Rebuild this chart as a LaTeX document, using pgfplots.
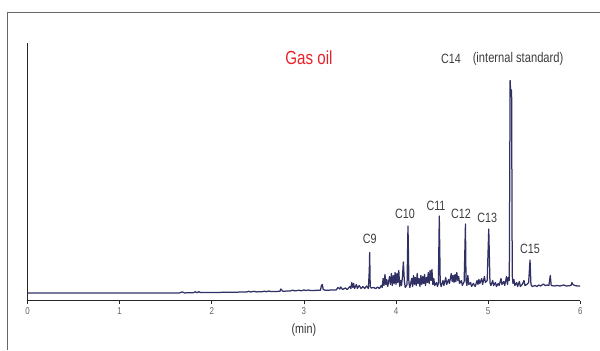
\documentclass[border=0pt]{standalone}
\usepackage{fontspec}
\setmainfont{Liberation Sans}[FakeStretch=0.8]
\usepackage{pgfplots}
\pgfplotsset{compat=1.18}
\definecolor{trace}{RGB}{48,48,100}
\definecolor{lbl}{RGB}{60,60,60}
\definecolor{tlbl}{RGB}{100,100,100}
\definecolor{gasred}{RGB}{232,32,42}
\begin{document}
\begin{tikzpicture}[x=1bp,y=1bp]
\useasboundingbox (0,0) rectangle (600,350);
\draw[gray!80!black,line width=1bp] (7,0) -- (7,337.7) -- (600,337.7);
\begin{axis}[
  at={(27.6bp,49.5bp)}, anchor=south west,
  scale only axis, width=552.6bp, height=257bp,
  xmin=0, xmax=6, ymin=0, ymax=257,
  axis x line=bottom, axis y line=left,
  axis line style={-, black!85, line width=1.2bp},
  y axis line style={line width=1.6bp},
  xtick={0,1,2,3,4,5,6}, ytick=\empty,
  tick style={black!85, line width=0.8bp},
  major tick length=3bp,
  xtick align=outside,
  /pgf/number format/assume math mode=true,
  ticklabel style={font=\fontsize{10}{11}\selectfont, text=tlbl, yshift=-1bp},
  xlabel={(min)},
  xlabel style={font=\fontsize{13.5}{14}\selectfont, text=black!80, yshift=-2bp},
  clip=false,
]
\addplot[trace, line width=1.25bp, mark=none, line join=round] coordinates {
(0,7.5) (1.65,7.6) (1.68,8.6) (1.70,7.6) (1.80,7.8) (1.82,8.8) (1.84,7.8) (1.86,8.8) (1.88,7.9) (2.00,8.0)
(2.38,8.5) (2.40,9.3) (2.42,8.5) (2.46,9.2) (2.48,8.6) (2.55,8.8) (2.57,9.4) (2.59,8.8) (2.62,9.5) (2.64,8.9)
(2.74,9.2) (2.75,11.5) (2.77,9.3) (2.85,9.5) (2.88,10.4) (2.90,9.6) (2.95,10.3) (2.97,9.7) (3.00,10.6) (3.02,9.9)
(3.05,10.6) (3.07,9.9) (3.10,10.1) (3.18,10.2) (3.19,15) (3.20,16) (3.21,11) (3.23,10.3) (3.35,10.5) (3.37,13)
(3.39,11.5) (3.40,13.5) (3.42,11) (3.45,12.5) (3.47,11) (3.50,14) (3.51,12) (3.52,18) (3.53,13) (3.54,17)
(3.55,12) (3.57,16) (3.58,12) (3.60,15) (3.62,12) (3.64,14) (3.66,12) (3.68,14.5) (3.70,12) (3.71,30)
(3.714,48) (3.72,14) (3.73,12.5) (3.76,13) (3.78,11.8) (3.80,13.5) (3.82,12) (3.84,15) (3.85,13) (3.86,22)
(3.87,15) (3.88,26) (3.89,16) (3.90,21) (3.91,14) (3.93,24) (3.94,16) (3.95,27) (3.96,15) (3.97,25)
(3.98,17) (3.99,28) (4.00,16) (4.01,27) (4.02,18) (4.03,30) (4.04,14) (4.05,20) (4.06,15) (4.07,24)
(4.08,38.5) (4.09,20) (4.10,13) (4.12,16) (4.13,74.5) (4.14,18) (4.15,13) (4.17,22) (4.18,14) (4.19,25)
(4.20,16) (4.21,23) (4.22,15) (4.23,27) (4.24,17) (4.25,22) (4.26,14) (4.27,25) (4.28,16) (4.29,24)
(4.30,17) (4.31,26) (4.32,15) (4.33,23) (4.34,18) (4.35,28) (4.36,17) (4.37,30) (4.38,20) (4.39,31)
(4.40,16) (4.41,22) (4.42,15) (4.44,18) (4.45,14) (4.46,17) (4.47,84.5) (4.48,18) (4.49,14) (4.51,20)
(4.52,15) (4.54,23) (4.55,16) (4.57,21) (4.58,17) (4.60,27) (4.61,19) (4.62,25) (4.63,18) (4.64,26)
(4.65,19) (4.66,28) (4.67,20) (4.68,24) (4.69,17) (4.71,20) (4.72,15) (4.74,19) (4.754,76.5) (4.76,20)
(4.77,15) (4.78,25) (4.79,16) (4.81,18) (4.82,14) (4.84,17) (4.86,14) (4.88,20) (4.89,16) (4.90,21)
(4.91,17) (4.93,22) (4.94,16) (4.96,24) (4.97,18) (4.99,20) (5.007,71.5) (5.02,18) (5.03,15) (5.05,20)
(5.06,15) (5.08,18) (5.09,14) (5.11,17) (5.12,15) (5.14,22) (5.15,16) (5.17,19) (5.18,15) (5.20,24)
(5.21,16) (5.22,23) (5.23,20) (5.239,220) (5.247,205) (5.255,210.5) (5.262,25) (5.27,17) (5.28,21) (5.29,15)
(5.31,18) (5.32,14) (5.34,19) (5.35,14) (5.37,16) (5.39,20) (5.40,15) (5.42,16) (5.44,18) (5.455,40.5)
(5.465,16) (5.48,14) (5.51,15) (5.53,14) (5.55,15.5) (5.57,14.5) (5.60,16.5) (5.62,15) (5.64,15.5) (5.66,15)
(5.675,25) (5.685,15) (5.72,14.5) (5.75,15) (5.78,14.5) (5.82,15.5) (5.85,14.5) (5.90,15) (5.91,18) (5.92,16)
(5.94,15) (5.97,14.5) (6.00,14.5)
};
\begin{scope}[every node/.style={font=\fontsize{13.5}{14}\selectfont, text=lbl, inner sep=0pt}]
\node at (axis cs:3.714,61.5) {C9};
\node at (axis cs:4.098,86.5) {C10};
\node at (axis cs:4.434,94.5) {C11};
\node at (axis cs:4.706,86.5) {C12};
\node at (axis cs:4.99,82.5) {C13};
\node at (axis cs:5.455,51.5) {C15};
\node at (axis cs:4.597,241.5) {C14};
\node[font=\fontsize{14}{15}\selectfont] at (axis cs:5.325,241.5) {(internal standard)};
\node[font=\fontsize{19}{20}\selectfont, text=gasred] at (axis cs:3.055,243) {Gas oil};
\end{scope}
\end{axis}
\end{tikzpicture}
\end{document}
